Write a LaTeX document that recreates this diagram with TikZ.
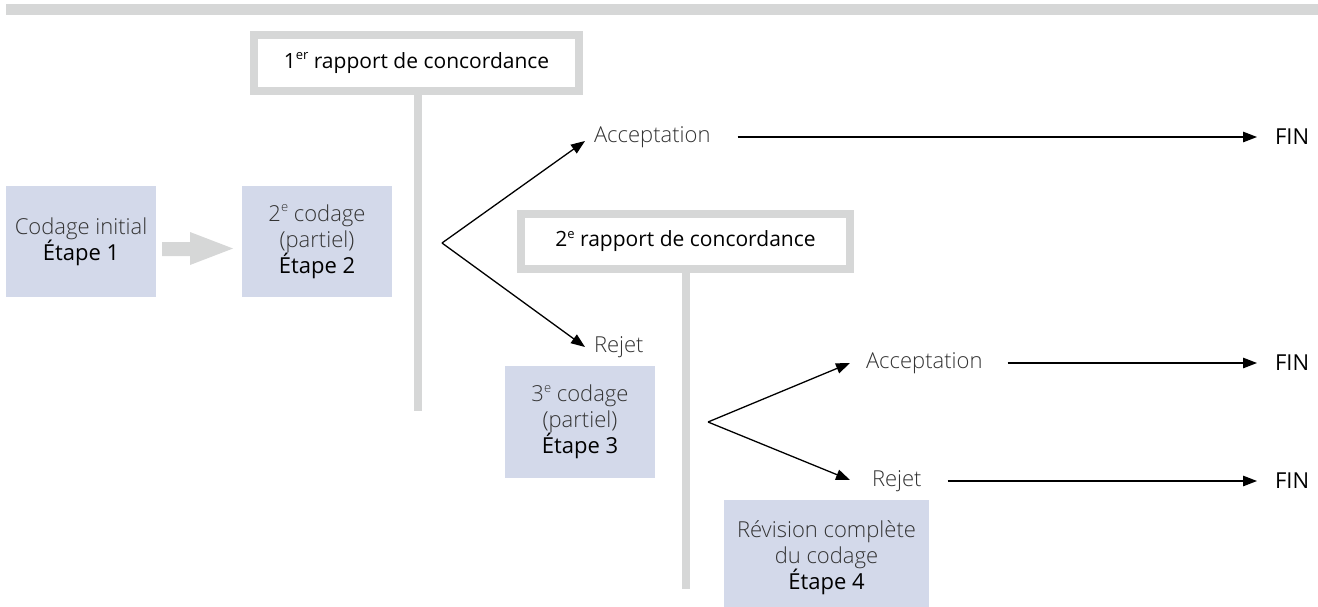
\documentclass[tikz,border=0pt]{standalone}
\usepackage{fontspec}
\setmainfont{Open Sans}
\newfontfamily\lightfont{Open Sans Light}
\usetikzlibrary{arrows.meta}
\definecolor{barg}{HTML}{D6D7D7}
\definecolor{boxb}{HTML}{D3D9EA}
\definecolor{ltxt}{HTML}{333333}
\newcommand{\rg}[1]{{\rmfamily\color{black}#1}}
\newcommand{\ex}[1]{\raisebox{0.42em}{\fontsize{13}{13}\selectfont #1}}
\begin{document}
\begin{tikzpicture}[x=1pt,y=-1pt,
  every node/.style={inner sep=0pt, outer sep=0pt},
  lt/.style={font=\lightfont\fontsize{22}{26}\selectfont, text=ltxt},
  fin/.style={font=\fontsize{22}{26}\selectfont, text=black, anchor=west},
  lbl/.style={lt, anchor=west},
  stepbox/.style={fill=boxb, align=center, lt, minimum width=150pt, minimum height=111pt},
  rapport/.style={draw=barg, line width=8pt, fill=white, font=\fontsize{21}{25}\selectfont, text=black, minimum height=56pt},
  stem/.style={draw=barg, line width=8pt},
  arr/.style={line width=1.3pt, -{Triangle[length=14pt,width=10.5pt]}}]
\useasboundingbox (0,0) rectangle (1318,606);
\clip (0,0) rectangle (1318,606);
% top bar
\fill[barg] (6,4) rectangle (1318,15);

% first agreement report
\coordinate (s1end) at (418,411);
\draw[stem] (418,90) -- (s1end);
\node[rapport, minimum width=325pt] (r1) at (416.5,63) {1\ex{er} rapport de concordance};

% second agreement report
\coordinate (s2end) at (685.5,589);
\draw[stem] (685.5,265) -- (s2end);
\node[rapport, minimum width=329pt, minimum height=55pt] (r2) at (685.5,241.5) {2\ex{e} rapport de concordance};

% step boxes
\node[stepbox] (b1) at (81,241.5) {Codage initial\\\rg{Étape 1}};
\node[stepbox] (b2) at (317,241.5) {2\ex{e} codage\\(partiel)\\\rg{Étape 2}};
\node[stepbox, minimum height=112pt] (b3) at (580,422) {3\ex{e} codage\\(partiel)\\\rg{Étape 3}};
\node[stepbox, minimum width=205pt, minimum height=116pt] (b4) at (826.5,558) {Révision complète\\du codage\\\rg{Étape 4}};

% grey arrow between boxes 1 and 2
\fill[barg] (162,242) -- (190,242) -- (190,232) -- (233,248.5) -- (190,265) -- (190,256) -- (162,256) -- cycle;

% branch 1
\coordinate (br1) at (442,243);
\node[lbl] (acc1) at (594,137) {Acceptation};
\node[lbl] (rej1) at (594,347) {Rejet};
\node[fin] (fin1) at (1275,137) {FIN};
\draw[arr] (br1) -- ([shift={(-9,4)}]acc1.west);
\draw[arr] (br1) -- ([shift={(-9,0)}]rej1.west);
\draw[arr] ([xshift=27pt]acc1.east) -- ([xshift=-18pt]fin1.west);

% branch 2
\coordinate (br2) at (708,422);
\node[lbl] (acc2) at (866,363) {Acceptation};
\node[lbl] (rej2) at (872,481) {Rejet};
\node[fin] (fin2) at (1275,363) {FIN};
\node[fin] (fin3) at (1275,481) {FIN};
\draw[arr] (br2) -- ([shift={(-16,0)}]acc2.west);
\draw[arr] (br2) -- ([shift={(-22,-1)}]rej2.west);
\draw[arr] ([xshift=25pt]acc2.east) -- ([xshift=-18pt]fin2.west);
\draw[arr] ([xshift=26pt]rej2.east) -- ([xshift=-18pt]fin3.west);
\end{tikzpicture}
\end{document}
